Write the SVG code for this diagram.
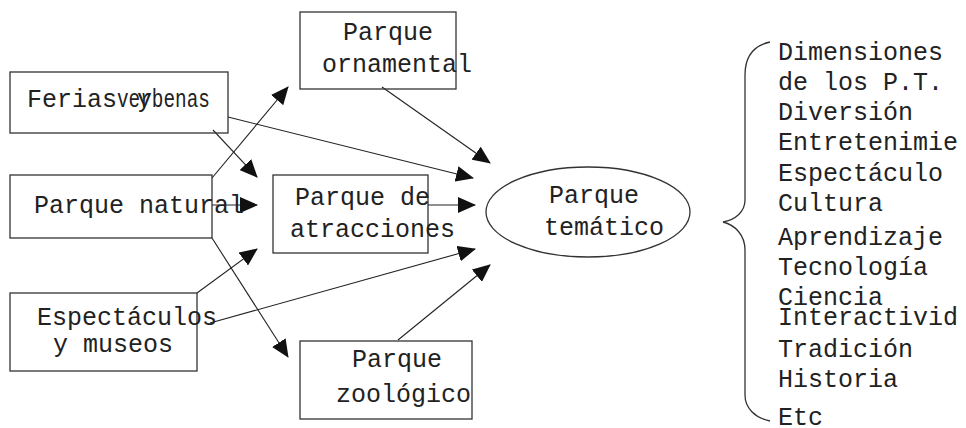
<svg xmlns="http://www.w3.org/2000/svg" width="966" height="428" viewBox="0 0 966 428">
<style>
.box{fill:none;stroke:#333;stroke-width:1.3}
.t{font-family:"Liberation Mono","DejaVu Sans Mono",monospace;font-size:25px;fill:#222}
.c{stroke:#222;stroke-width:1.1;fill:none;marker-end:url(#ah)}
</style>
<defs>
<marker id="ah" markerUnits="userSpaceOnUse" markerWidth="18" markerHeight="16" viewBox="0 0 18 16" refX="17" refY="8" orient="auto">
<path d="M0,0 L18,8 L0,16 z" fill="#111"/>
</marker>
</defs>
<rect width="966" height="428" fill="#fff"/>
<g id="connectors">
<line class="c" x1="228" y1="117" x2="473" y2="178"/>
<line class="c" x1="382" y1="87" x2="490" y2="163"/>
<line class="c" x1="213" y1="130" x2="257" y2="177"/>
<line class="c" x1="212" y1="178" x2="288" y2="87"/>
<line class="c" x1="212" y1="205" x2="257" y2="205"/>
<line class="c" x1="428" y1="205" x2="475" y2="205"/>
<line class="c" x1="197" y1="293" x2="257" y2="249"/>
<line class="c" x1="210" y1="323" x2="475" y2="249"/>
<line class="c" x1="212" y1="238" x2="288" y2="357"/>
<line class="c" x1="398" y1="340" x2="490" y2="265"/>
</g>
<g id="ferias">
<rect class="box" x="10" y="72" width="218" height="61"/>
<text class="t" x="27" y="107">Ferias</text>
<text class="t" x="137" y="107">y</text>
<text class="t" x="117" y="107" textLength="93" lengthAdjust="spacingAndGlyphs">verbenas</text>
</g>
<g id="natural">
<rect class="box" x="10" y="175" width="202" height="63"/>
<text class="t" x="34" y="213">Parque natural</text>
</g>
<g id="espectaculos">
<rect class="box" x="10" y="293" width="187" height="78"/>
<text class="t" x="37" y="325">Espectáculos</text>
<text class="t" x="53" y="352">y museos</text>
</g>
<g id="ornamental">
<rect class="box" x="300" y="12" width="156" height="77"/>
<text class="t" x="343" y="40">Parque</text>
<text class="t" x="322" y="72">ornamental</text>
</g>
<g id="atracciones">
<rect class="box" x="273" y="175" width="155" height="78"/>
<text class="t" x="295" y="205">Parque de</text>
<text class="t" x="290" y="237">atracciones</text>
</g>
<g id="zoologico">
<rect class="box" x="300" y="341" width="172" height="78"/>
<text class="t" x="352" y="367">Parque</text>
<text class="t" x="336" y="402">zoológico</text>
</g>
<g id="tematico">
<ellipse class="box" cx="588" cy="212" rx="102" ry="45"/>
<text class="t" x="549" y="203">Parque</text>
<text class="t" x="544" y="235">temático</text>
</g>
<g id="dimensiones">
<path class="box" d="M770,42 C752,46 745,58 745,75 L745,200 C745,212 735,220 723,222 C735,225 745,235 745,250 L745,395 C745,408 755,418 770,421"/>
<text class="t" x="778" y="60">Dimensiones</text>
<text class="t" x="778" y="90">de los P.T.</text>
<text class="t" x="778" y="120">Diversión</text>
<text class="t" x="778" y="150">Entretenimie</text>
<text class="t" x="778" y="181">Espectáculo</text>
<text class="t" x="778" y="211">Cultura</text>
<text class="t" x="778" y="245">Aprendizaje</text>
<text class="t" x="778" y="275">Tecnología</text>
<text class="t" x="778" y="305">Ciencia</text>
<text class="t" x="778" y="325">Interactivid</text>
<text class="t" x="778" y="357">Tradición</text>
<text class="t" x="778" y="387">Historia</text>
<text class="t" x="778" y="425">Etc</text>
</g>
</svg>
